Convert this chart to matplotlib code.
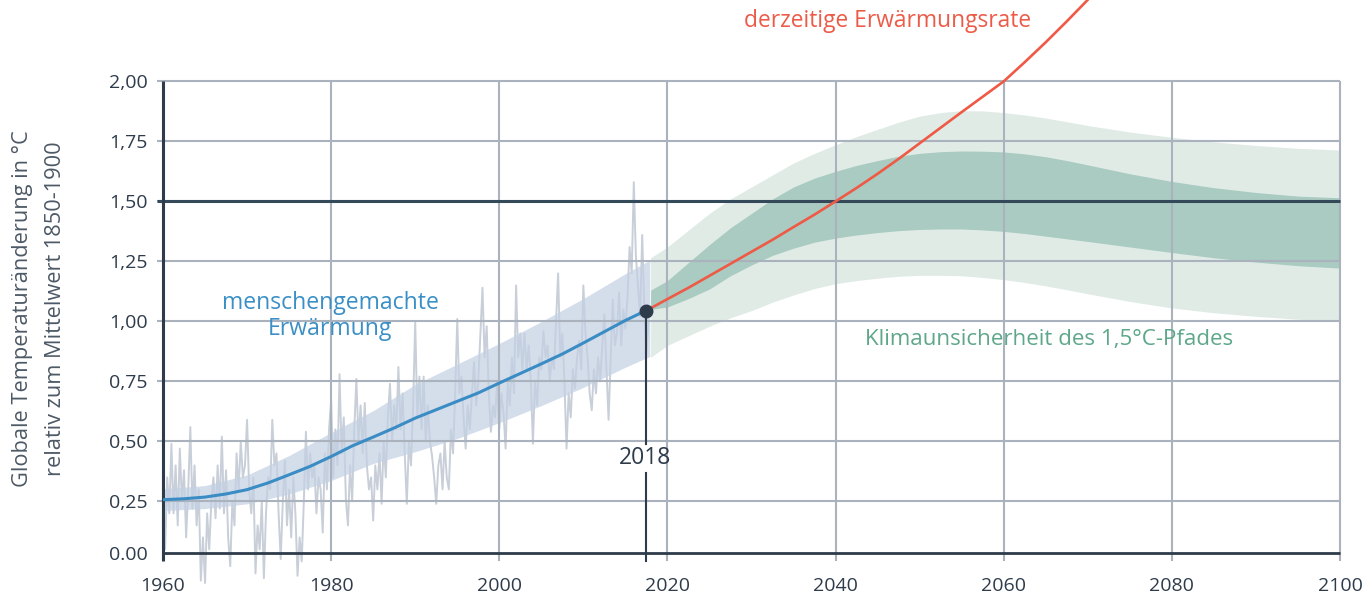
import numpy as np
import matplotlib.pyplot as plt

plt.rcParams['font.family'] = ['Open Sans', 'DejaVu Sans']

DARK = '#2e3b4a'
GRID = '#aab3bd'

obs = [
    0.30, 0.05, 0.35, 0.20,   # 1960
    0.49, 0.20, 0.40, 0.15,
    0.47, 0.25, 0.38, 0.10,
    0.30, 0.56, 0.22, 0.40,
    0.15, 0.30, -0.08, 0.10,
    -0.09, 0.20, 0.05, 0.25,  # 1965
    0.35, 0.18, 0.40, 0.22,
    0.52, 0.20, 0.38, 0.10,
    -0.02, 0.25, 0.15, 0.45,
    0.30, 0.50, 0.35, 0.40,
    0.59, 0.30, 0.20, 0.35,   # 1970
    -0.05, 0.15, 0.05, 0.25,
    -0.07, 0.20, 0.35, 0.30,
    0.59, 0.40, 0.45, 0.20,
    0.01, 0.25, 0.42, 0.15,
    0.30, 0.10, 0.35, 0.20,   # 1975
    -0.06, 0.10, 0.00, 0.25,
    0.54, 0.30, 0.45, 0.35,
    0.40, 0.20, 0.35, 0.30,
    0.12, 0.45, 0.30, 0.55,
    0.67, 0.35, 0.55, 0.40,   # 1980
    0.78, 0.45, 0.60, 0.26,
    0.15, 0.40, 0.25, 0.55,
    0.76, 0.50, 0.65, 0.45,
    0.66, 0.40, 0.30, 0.35,
    0.17, 0.40, 0.30, 0.45,   # 1985
    0.24, 0.50, 0.35, 0.60,
    0.74, 0.50, 0.65, 0.55,
    0.81, 0.55, 0.70, 0.45,
    0.24, 0.50, 0.40, 0.65,
    1.00, 0.60, 0.77, 0.55,   # 1990
    0.77, 0.50, 0.65, 0.50,
    0.44, 0.35, 0.24, 0.40,
    0.45, 0.30, 0.50, 0.35,
    0.30, 0.55, 0.45, 0.70,
    1.01, 0.70, 0.77, 0.60,   # 1995
    0.47, 0.65, 0.55, 0.70,
    0.83, 0.65, 0.75, 0.95,
    1.14, 0.85, 0.98, 0.70,
    0.54, 0.65, 0.60, 0.75,
    0.55, 0.70, 0.62, 0.47,   # 2000
    0.75, 0.65, 0.85, 0.70,
    1.15, 0.85, 0.95, 0.80,
    0.95, 0.80, 0.90, 0.75,
    0.49, 0.75, 0.65, 0.85,
    0.80, 0.96, 0.85, 0.90,   # 2005
    0.75, 0.85, 0.80, 1.00,
    1.20, 0.85, 0.95, 0.75,
    0.47, 0.70, 0.60, 0.80,
    0.72, 0.85, 0.92, 0.80,
    1.15, 0.95, 0.85, 0.70,   # 2010
    0.63, 0.80, 0.70, 0.85,
    0.75, 0.90, 1.03, 0.80,
    0.59, 0.85, 1.09, 0.90,
    0.95, 1.12, 0.90, 1.05,
    0.97, 1.10, 1.31, 1.20,   # 2015
    1.58, 1.27, 1.15, 1.02,
    1.36, 1.05, 0.87, 1.00,
]
obs_years = 1960 + np.arange(len(obs)) / 4

# human-induced warming (blue line)
human_years = [1960, 1962.5, 1965, 1967.5, 1970, 1972.5, 1975, 1977.5, 1980, 1982.5,
               1985, 1987.5, 1990, 1992.5, 1995, 1997.5, 2000, 2002.5, 2005, 2007.5,
               2010, 2012.5, 2015, 2017.5]
human = [0.257, 0.261, 0.268, 0.281, 0.299, 0.327, 0.361, 0.396, 0.437, 0.481,
         0.518, 0.556, 0.597, 0.632, 0.667, 0.702, 0.743, 0.783, 0.823, 0.864,
         0.910, 0.957, 1.004, 1.046]

band_years = [1960, 1965, 1970, 1975, 1980, 1985, 1990, 1995, 2000, 2005, 2010, 2015, 2017.9]
band_low = [0.212, 0.220, 0.240, 0.281, 0.337, 0.408, 0.457, 0.512, 0.578, 0.649, 0.725, 0.809, 0.854]
band_high = [0.302, 0.316, 0.360, 0.441, 0.537, 0.628, 0.737, 0.822, 0.908, 0.999, 1.095, 1.199, 1.255]

# 1.5 degree pathway uncertainty
path_years = [2018, 2020, 2022.5, 2025, 2027.5, 2030, 2032.5, 2035, 2037.5, 2040,
              2042.5, 2045, 2047.5, 2050, 2052.5, 2055, 2057.5, 2060, 2062.5, 2065,
              2067.5, 2070, 2075, 2080, 2085, 2090, 2095, 2100]
outer_high = [1.265, 1.31, 1.38, 1.45, 1.51, 1.56, 1.61, 1.66, 1.70, 1.736,
              1.77, 1.80, 1.83, 1.855, 1.87, 1.878, 1.877, 1.870, 1.86, 1.847,
              1.832, 1.816, 1.789, 1.767, 1.748, 1.733, 1.721, 1.714]
outer_low = [0.85, 0.90, 0.94, 0.98, 1.015, 1.045, 1.08, 1.11, 1.137, 1.157,
             1.17, 1.18, 1.188, 1.192, 1.192, 1.19, 1.183, 1.174, 1.162, 1.148,
             1.132, 1.115, 1.083, 1.056, 1.036, 1.021, 1.009, 1.0]
inner_high = [1.13, 1.17, 1.245, 1.32, 1.39, 1.45, 1.51, 1.56, 1.597, 1.625,
              1.65, 1.67, 1.688, 1.70, 1.707, 1.71, 1.709, 1.706, 1.698, 1.686,
              1.67, 1.652, 1.615, 1.583, 1.557, 1.537, 1.522, 1.515]
inner_low = [1.05, 1.06, 1.095, 1.135, 1.19, 1.235, 1.275, 1.305, 1.33, 1.347,
             1.36, 1.37, 1.378, 1.383, 1.385, 1.385, 1.381, 1.375, 1.366, 1.355,
             1.344, 1.333, 1.31, 1.287, 1.265, 1.247, 1.232, 1.222]

# current warming rate (red line)
rate_years = [2017.5, 2020, 2022.5, 2025, 2027.5, 2030, 2032.5, 2035, 2037.5, 2040,
              2042.5, 2045, 2047.5, 2050, 2052.5, 2055, 2057.5, 2060, 2062.5, 2065,
              2067.5, 2070, 2072.5]
rate = [1.045, 1.093, 1.14, 1.19, 1.24, 1.29, 1.34, 1.393, 1.445, 1.50,
        1.556, 1.615, 1.677, 1.742, 1.807, 1.872, 1.936, 2.00, 2.08, 2.163,
        2.25, 2.34, 2.43]

marker_year, marker_val = 2017.5, 1.045

x_ticks = [1960, 1980, 2000, 2020, 2040, 2060, 2080, 2100]
y_grid = [0.25, 0.5, 0.75, 1.0, 1.25, 1.5, 1.75, 2.0]
y_tick_pos = [0.035, 0.25, 0.5, 0.75, 1.0, 1.25, 1.5, 1.75, 2.0]
y_tick_labels = ['0.00', '0,25', '0,50', '0,75', '1,00', '1,25', '1,50', '1,75', '2,00']

fig = plt.figure(figsize=(13.62, 5.98), dpi=100)
ax = fig.add_axes([163 / 1362, 1 - 553 / 598, 1177 / 1362, 553 / 598])
ax.set_xlim(1960, 2100)
ax.set_ylim(0.035, 2.339)
for s in ax.spines.values():
    s.set_visible(False)

# uncertainty bands
ax.fill_between(path_years, outer_low, outer_high, color='#e0ebe6', lw=0, zorder=1)
ax.fill_between(path_years, inner_low, inner_high, color='#a9cbc1', lw=0, zorder=1.1)

# observations + human band
ax.plot(obs_years, obs, color='#c8cfd9', lw=1.4, zorder=1.5, clip_on=False)
ax.fill_between(band_years, band_low, band_high, color='#c3d0e3', alpha=0.7, lw=0, zorder=1.6)

# grid
ax.vlines(x_ticks, 0.0, 2.0, color=GRID, lw=1.5, zorder=2, clip_on=False)
ax.hlines(y_grid, 1959.3, 2100, color=GRID, lw=1.5, zorder=2, clip_on=False)
ax.hlines(1.5, 1959.3, 2100, color='#34495a', lw=2.2, zorder=2.1, clip_on=False)
ax.vlines(1960, 0.0, 2.0, color=DARK, lw=2.2, zorder=2.2, clip_on=False)
ax.hlines(0.035, 1960, 2100, color=DARK, lw=2.0, zorder=2.2, clip_on=False)

ax.plot(human_years, human, color='#3a8cc4', lw=2.2, zorder=3, solid_joinstyle='round')
ax.plot(rate_years, rate, color='#ee5a45', lw=1.9, zorder=3, solid_joinstyle='round')

# 2018 marker
ax.plot([marker_year, marker_year], [marker_val, 0.49], color=DARK, lw=1.5, zorder=3.5)
ax.plot([marker_year, marker_year], [0.37, 0.0], color=DARK, lw=1.5, zorder=3.5, clip_on=False)
ax.plot(marker_year, marker_val, 'o', color=DARK, ms=9, zorder=4)
ax.text(marker_year - 0.2, 0.43, '2018', ha='center', va='center', fontsize=16.5, color=DARK)

ax.set_xticks(x_ticks)
ax.set_xticklabels([str(x) for x in x_ticks])
ax.set_yticks(y_tick_pos)
ax.set_yticklabels(y_tick_labels)
ax.tick_params(axis='x', length=0, pad=17, labelsize=14, labelcolor=DARK)
ax.tick_params(axis='y', length=0, pad=11, labelsize=14, labelcolor=DARK)

ax.text(2046.2, 2.25, 'derzeitige Erwärmungsrate', ha='center', va='center',
        fontsize=16.4, color='#ec5b48')
ax.text(1979.9, 1.023, 'menschengemachte\nErwärmung', ha='center', va='center',
        fontsize=16.6, color='#3a8fc6', linespacing=1.1)
ax.text(2065.4, 0.924, 'Klimaunsicherheit des 1,5°C-Pfades', ha='center', va='center',
        fontsize=16.1, color='#5ea78b')

fig.text(23 / 1362, 1 - 309 / 598, 'Globale Temperaturänderung in °C', rotation=90,
         ha='center', va='center', fontsize=15.7, color='#4d5966')
fig.text(56 / 1362, 1 - 309 / 598, 'relativ zum Mittelwert 1850-1900', rotation=90,
         ha='center', va='center', fontsize=15.7, color='#4d5966')

fig.savefig('out.png', dpi=100)
